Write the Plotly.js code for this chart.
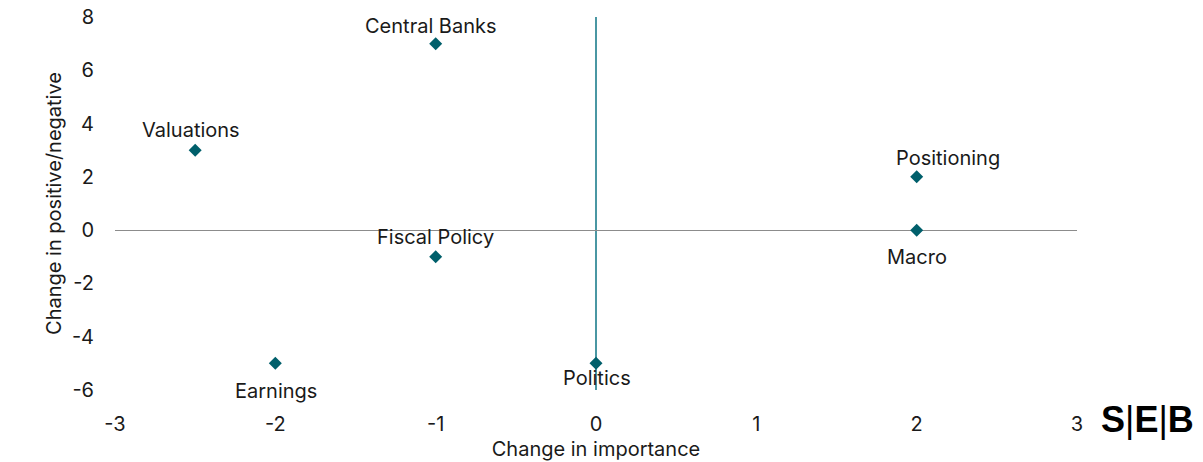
<!DOCTYPE html>
<html>
<head>
<meta charset="utf-8">
<script src="https://cdn.plot.ly/plotly-3.0.1.min.js"></script>
<style>html,body{margin:0;padding:0;background:#fff;}#chart{width:1203px;height:462px;}</style>
</head>
<body>
<div id="chart"></div>
<script>
const labels = ["Central Banks", "Valuations", "Positioning", "Macro", "Fiscal Policy", "Politics", "Earnings"];
const importance = [-1, -2.5, 2, 2, -1, 0, -2];
const sentiment = [7, 3, 2, 0, -1, -5, -5];
const xTicks = [-3, -2, -1, 0, 1, 2, 3];
const yTicks = [-6, -4, -2, 0, 2, 4, 6, 8];
const xTitle = "Change in importance";
const yTitle = "Change in positive/negative";

const FONT = "Inter, 'Noto Sans', Arial, sans-serif";
const TXT = "#1a1a1a";
// label offsets in pixels (style only)
const labelDx = [-5, -4, 31, 0, 0, 1, 1];
const labelDy = [18, 20, 19, -27, 20, -15, -28];

const trace = {
  type: "scatter",
  mode: "markers",
  x: importance,
  y: sentiment,
  marker: {symbol: "diamond", size: 10, color: "#005f6b"},
  hoverinfo: "none",
  cliponaxis: false
};

const annotations = labels.map((t, i) => ({
  x: importance[i], y: sentiment[i], xref: "x", yref: "y",
  text: t, showarrow: false, xanchor: "center", yanchor: "middle",
  xshift: labelDx[i], yshift: labelDy[i],
  font: {family: FONT, size: 20, color: TXT}
}));

annotations.push({
  xref: "paper", yref: "paper", x: 1.073, y: -0.08, xanchor: "center", yanchor: "middle",
  text: "<b>S</b>|<b>E</b>|<b>B</b>", showarrow: false,
  font: {family: "Arial, 'Liberation Sans', sans-serif", size: 36, color: "#000"}
});

const layout = {
  width: 1203, height: 462,
  margin: {l: 115, r: 126, t: 17, b: 72},
  paper_bgcolor: "#fff", plot_bgcolor: "#fff",
  showlegend: false,
  font: {family: FONT, size: 20, color: TXT},
  xaxis: {
    range: [-3, 3], tickvals: xTicks, ticktext: xTicks.map(String),
    showgrid: false, showline: false, ticks: "",
    zeroline: true, zerolinecolor: "#4a97a3", zerolinewidth: 1.5,
    ticklabelstandoff: 20,
    tickfont: {family: FONT, size: 20, color: TXT},
    title: {text: xTitle, font: {family: FONT, size: 20, color: TXT}, standoff: 6}
  },
  yaxis: {
    range: [-6, 8], tickvals: yTicks, ticktext: yTicks.map(String),
    showgrid: false, showline: false, ticks: "",
    zeroline: true, zerolinecolor: "#8c8c8c", zerolinewidth: 1,
    ticklabelstandoff: 20,
    tickfont: {family: FONT, size: 20, color: TXT},
    title: {text: yTitle, font: {family: FONT, size: 20, color: TXT}, standoff: 4}
  },
  annotations: annotations
};

Plotly.newPlot("chart", [trace], layout, {displayModeBar: false, staticPlot: true});
</script>
</body>
</html>
